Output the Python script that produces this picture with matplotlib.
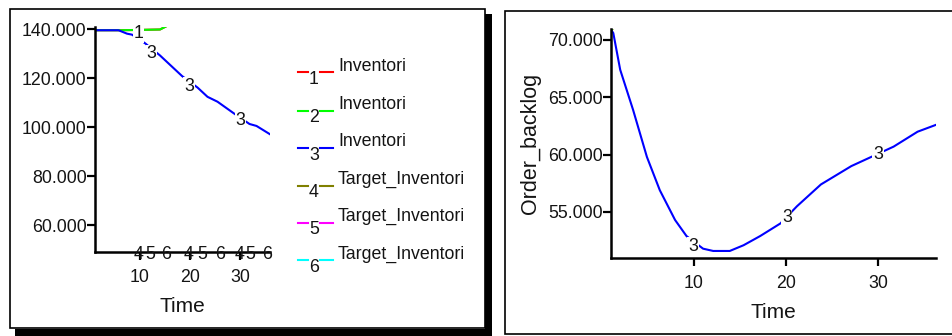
import matplotlib
matplotlib.use("Agg")
import matplotlib.pyplot as plt
from matplotlib.patches import Rectangle
from matplotlib.lines import Line2D

plt.rcParams['font.family'] = ['Liberation Sans', 'DejaVu Sans']

W, H = 952, 336
TXT = '#141414'

# ---- data: Inventori panel ----
inv_time = [1, 5.7, 7.4, 8.4, 11, 14, 18.4, 21.5, 23.5, 25.5, 28.8, 31.9, 33.3, 36]
inv_run3 = [139.6, 139.6, 138.2, 137.8, 134.3, 129.3, 120.9, 116.2, 112.4, 110.4, 105.6, 101.3, 100.5, 97.1]
inv_run12_time = [1, 6, 9, 14, 16]
inv_run12 = [139.6, 139.6, 139.7, 139.9, 142.0]
inv_run3_label_t = [12.3, 19.8, 30.1]
inv_run3_label_v = [130.0, 116.8, 102.6]
inv_run1_label = (9.7, 138.2)
target_label_t = {'4': [9.8, 19.7, 30.0], '5': [12.0, 22.4, 32.1], '6': [15.3, 26.0, 35.5]}
inv_yticks = [60, 80, 100, 120, 140]
inv_xticks = [10, 20, 30]

# ---- data: Order_backlog panel ----
ob_time = [1, 1.25, 2, 3.4, 4.9, 6.3, 7.96, 9.2, 11.0, 12.1, 13.9, 15.4, 17.2, 19.4,
           21.2, 23.8, 27.1, 31.7, 34.3, 36.3]
ob_run3 = [70.9, 70.6, 67.4, 63.9, 59.8, 56.9, 54.3, 52.9, 51.8, 51.6, 51.6, 52.1, 52.9, 54.0,
           55.5, 57.4, 59.0, 60.7, 62.0, 62.6]
ob_run12_time = [1, 1.4]
ob_run12 = [70.6, 71.6]
ob_label_t = [9.9, 20.1, 30.0]
ob_label_v = [52.0, 54.5, 60.0]
ob_yticks = [55, 60, 65, 70]
ob_xticks = [10, 20, 30]

legend_nums = ['1', '2', '3', '4', '5', '6']
legend_names = ['Inventori', 'Inventori', 'Inventori',
                'Target_Inventori', 'Target_Inventori', 'Target_Inventori']
legend_colors = ['#ff0000', '#00ff00', '#0000ff', '#808000', '#ff00ff', '#00ffff']

FS = 12.8

fig = plt.figure(figsize=(W / 100, H / 100), dpi=100)

# background layer in pixel coordinates for the panel frames and legend
bg = fig.add_axes([0, 0, 1, 1], zorder=0)
bg.set_xlim(0, W)
bg.set_ylim(H, 0)
bg.axis('off')

# left panel with drop shadow
bg.add_patch(Rectangle((485, 14), 7, 322, facecolor='black', edgecolor='none'))
bg.add_patch(Rectangle((15, 328.5), 477, 7, facecolor='black', edgecolor='none'))
bg.add_patch(Rectangle((9.5, 8.5), 475.5, 319.5, facecolor='white', edgecolor='black', linewidth=1.2))
# right panel
bg.add_patch(Rectangle((504.5, 11), 460, 323, facecolor='white', edgecolor='black', linewidth=1.2))

# legend of the left panel
row_y = [72.3, 110.5, 148, 185.5, 222.5, 260]
for num, name, col, y in zip(legend_nums, legend_names, legend_colors, row_y):
    bg.add_line(Line2D([298, 308], [y, y], color=col, linewidth=1.5))
    bg.add_line(Line2D([320, 333], [y, y], color=col, linewidth=1.5))
    bg.text(314, y + 7, num, ha='center', va='center', fontsize=FS, color=TXT)
    bg.text(338, y - 6, name, ha='left', va='center', fontsize=FS, color=TXT)


def make_axes(left, right, top, bottom):
    return fig.add_axes([left / W, 1 - bottom / H, (right - left) / W, (bottom - top) / H], zorder=2)


def style(ax):
    ax.patch.set_alpha(0)
    for s in ['top', 'right']:
        ax.spines[s].set_visible(False)
    for s in ['left', 'bottom']:
        ax.spines[s].set_linewidth(1.8)
        ax.spines[s].set_color('black')
    ax.tick_params(direction='out', length=6, width=1.6, labelsize=FS, labelcolor=TXT)
    ax.tick_params(axis='y', pad=0)
    ax.tick_params(axis='x', pad=6)


def label_box():
    return dict(facecolor='white', edgecolor='none', pad=0.5)


# ---- left chart ----
ax1 = make_axes(95, 270, 27.3, 252)
style(ax1)
ax1.set_xlim(1, 36)
ax1.set_ylim(49, 140.8)
ax1.plot(inv_run12_time, inv_run12, color='#ff0000', linewidth=1.5)
ax1.plot(inv_run12_time, inv_run12, color='#00ff00', linewidth=1.5)
ax1.plot(inv_time, inv_run3, color='#0000ff', linewidth=1.5)
ax1.set_yticks(inv_yticks)
ax1.set_yticklabels([f'{v:.3f}' for v in inv_yticks])
ax1.set_xticks(inv_xticks)
ax1.set_xticklabels([str(v) for v in inv_xticks])
ax1.text(inv_run1_label[0], inv_run1_label[1], '1', ha='center', va='center', fontsize=FS,
         color=TXT, bbox=label_box(), zorder=5)
for t, v in zip(inv_run3_label_t, inv_run3_label_v):
    ax1.text(t, v, '3', ha='center', va='center', fontsize=FS, color=TXT,
             bbox=label_box(), zorder=5)
for num, ts in target_label_t.items():
    for t in ts:
        ax1.text(t, 47.8, num, ha='center', va='center', fontsize=FS, color=TXT, zorder=5,
                 clip_on=False)
ax1.set_xlabel('Time', fontsize=15, color=TXT, labelpad=8)

# ---- right chart ----
ax2 = make_axes(611, 936, 29.3, 258.3)
style(ax2)
ax2.set_xlim(1, 36.3)
ax2.set_ylim(50.96, 70.93)
ax2.plot(ob_run12_time, ob_run12, color='#ff0000', linewidth=1.5)
ax2.plot(ob_run12_time, ob_run12, color='#00ff00', linewidth=1.5)
ax2.plot(ob_time, ob_run3, color='#0000ff', linewidth=1.5)
ax2.set_yticks(ob_yticks)
ax2.set_yticklabels([f'{v:.3f}' for v in ob_yticks])
ax2.set_xticks(ob_xticks)
ax2.set_xticklabels([str(v) for v in ob_xticks])
for t, v in zip(ob_label_t, ob_label_v):
    ax2.text(t, v, '3', ha='center', va='center', fontsize=FS, color=TXT,
             bbox=label_box(), zorder=5)
ax2.set_xlabel('Time', fontsize=15, color=TXT, labelpad=8)
ax2.set_ylabel('Order_backlog', fontsize=15.5, color=TXT, labelpad=5)

fig.savefig('out.png', dpi=100)
